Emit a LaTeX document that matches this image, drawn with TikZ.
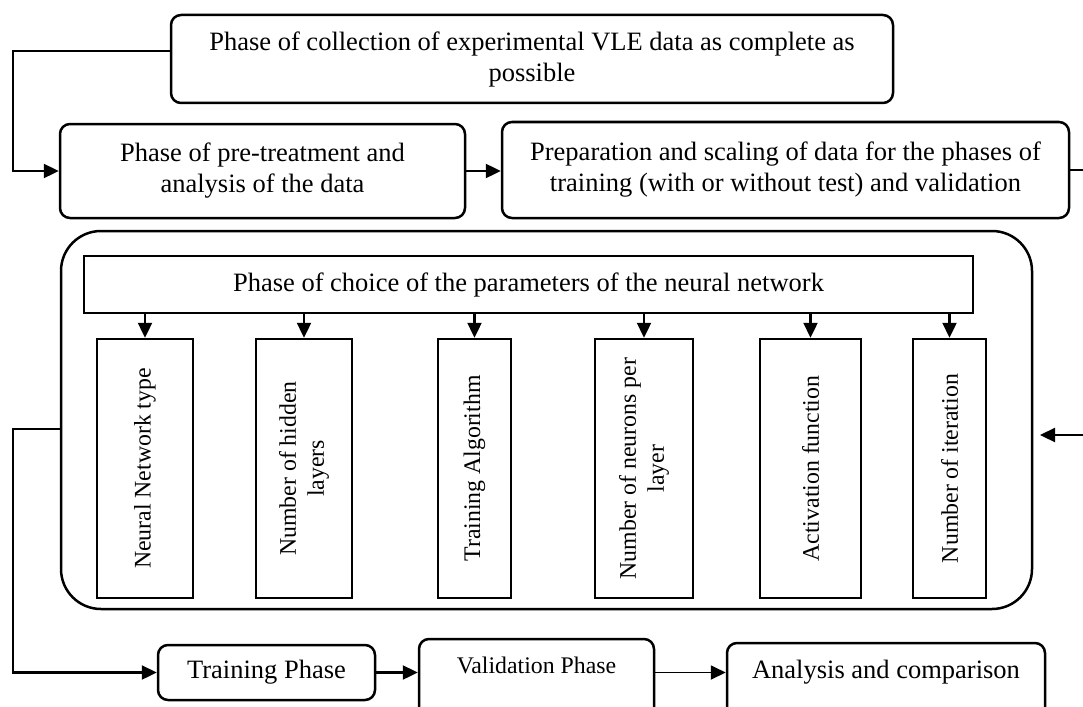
\documentclass[tikz,border=0pt]{standalone}
\usepackage{fontspec}
\setmainfont{Liberation Serif}
\usetikzlibrary{arrows.meta}
\begin{document}
\begin{tikzpicture}[x=1pt,y=-1pt,
  rbox/.style={draw,line width=2.5pt,rounded corners=10pt,inner sep=0pt,align=center,font=\fontsize{26.5}{31}\selectfont},
  sbox/.style={draw,line width=2.5pt,inner sep=0pt,align=center,font=\fontsize{26.5}{31}\selectfont},
  pbox/.style={draw,line width=2.5pt,inner sep=0pt,align=center,rotate=90,font=\fontsize{23.8}{28}\selectfont},
  plain/.style={inner sep=0pt,align=center},
  conn/.style={line width=2.4pt},
  arr/.style={line width=2.4pt,-{Triangle[length=15pt,width=14pt]}}]
\useasboundingbox (0,0) rectangle (1083,706);
\clip (0,0) rectangle (1083,706);

% top row
\node[rbox,minimum width=722pt,minimum height=88pt] (top) at (532,59)
  {Phase of collection of experimental VLE data as complete as\\possible};
\node[rbox,minimum width=405pt,minimum height=94pt] (pre) at (262.5,171)
  {Phase of pre-treatment and\\analysis of the data};
\node[rbox,minimum width=567pt,minimum height=96pt] (prep) at (785.5,170)
  {Preparation and scaling of data for the phases of\\training (with or without test) and validation};

% container
\node[draw,line width=2.5pt,rounded corners=40pt,minimum width=971pt,minimum height=378pt,inner sep=0pt] (cont) at (546.5,420) {};
\node[sbox,minimum width=889pt,minimum height=57pt] (head) at (528.5,284.5)
  {Phase of choice of the parameters of the neural network};

\node[pbox,minimum width=259pt,minimum height=96pt]  (p1) at (145,468.5)   {Neural Network type};
\node[pbox,minimum width=259pt,minimum height=96pt]  (p2) at (304,468.5)   {Number of hidden\\layers};
\node[pbox,minimum width=259pt,minimum height=73pt]  (p3) at (474.5,468.5) {Training Algorithm};
\node[pbox,minimum width=259pt,minimum height=98pt]  (p4) at (644,468.5)   {Number of neurons per\\layer};
\node[pbox,minimum width=259pt,minimum height=101pt] (p5) at (810.5,468.5) {Activation function};
\node[pbox,minimum width=259pt,minimum height=73pt]  (p6) at (949.5,468.5) {Number of iteration};

\foreach \p in {p1,p2,p3,p4,p5,p6}
  \draw[arr] (head.south -| \p.east) -- (\p.east);

% bottom row
\node[rbox,minimum width=217pt,minimum height=55pt] (train) at (266.5,672.5) {Training Phase};
\node[rbox,minimum width=235pt,minimum height=90pt] (valid) at (536.5,684) {};
\node[plain,font=\fontsize{23.8}{28}\selectfont] (validtxt) at (536.5,665) {Validation Phase};
\node[rbox,minimum width=318pt,minimum height=86pt] (anal) at (886,686) {};
\node[plain,font=\fontsize{26.5}{31}\selectfont] (analtxt) at (886,672) {Analysis and comparison};

% connectors
\coordinate (lx) at (13,0);
\coordinate (redge) at (1083,435);
\coordinate (rtip) at (1040,435);
\draw[arr] ([yshift=8pt]top.west) -| (lx |- pre.west) -- (pre.west);
\draw[arr] (pre.east) -- (pre.east -| prep.west);
\draw[conn] (prep.east) -- (prep.east -| redge);
\draw[arr] (redge) -- (rtip);
\draw[arr] ([yshift=-9pt]cont.west) -| (lx |- train.west) -- (train.west);
\draw[arr] (train.east) -- (train.east -| valid.west);
\draw[arr,line width=1.8pt] (valid.east |- train.east) -- (anal.west |- train.east);
\end{tikzpicture}
\end{document}
